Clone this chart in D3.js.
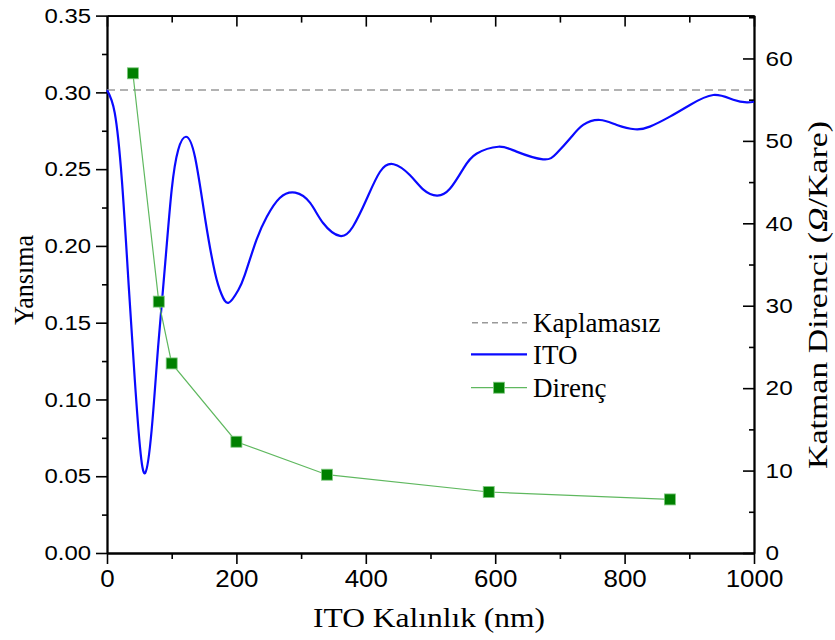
<!DOCTYPE html>
<html>
<head>
<meta charset="utf-8">
<script src="https://cdn.jsdelivr.net/npm/d3@7"></script>
<style>
body { margin: 0; background: #fff; }
svg { display: block; }
</style>
</head>
<body>
<div id="chart"></div>
<script>
// thickness (nm) and reflectance of the ITO curve
let itoX = [0, 12, 23, 33, 43, 51, 59, 69, 79, 90, 100, 110, 122, 136, 152, 167, 177, 188, 203, 213,
	231, 247, 267, 291, 314, 334, 360, 380, 401, 422, 443, 468, 489, 510, 530, 551, 571, 605,
	633, 674, 695, 716, 736, 762, 788, 816, 839, 870, 901, 937, 968, 989, 1000];
let itoR = [0.3015, 0.2866, 0.2429, 0.1778, 0.1127, 0.0690, 0.0521, 0.0801, 0.1342, 0.1889, 0.2367,
	0.2625, 0.2711, 0.2579, 0.2169, 0.1824, 0.1685, 0.1630, 0.1713, 0.1811,
	0.2039, 0.2190, 0.2312, 0.2347, 0.2280, 0.2149, 0.2065, 0.2125, 0.2302, 0.2483, 0.2532, 0.2462,
	0.2367, 0.2328, 0.2372, 0.2505, 0.2600, 0.2646, 0.2614, 0.2564, 0.2603, 0.2701, 0.2788, 0.2820,
	0.2788, 0.2760, 0.2777, 0.2842, 0.2918, 0.2983, 0.2952, 0.2935, 0.2939];

// sheet resistance points
let direncX = [40, 80, 100, 200, 340, 590, 870];
let direncR = [58.2, 30.5, 23.0, 13.5, 9.5, 7.4, 6.5];

// reflectance of the uncoated surface
let uncoated = 0.3015;

let leftTicks = [0, 0.05, 0.10, 0.15, 0.20, 0.25, 0.30, 0.35];
let rightTicks = [0, 10, 20, 30, 40, 50, 60];
let xTicks = [0, 200, 400, 600, 800, 1000];

let legendNames = ['Kaplamasız', 'ITO', 'Direnç'];

let width = 835;
let height = 640;
let margin = {left: 107, right: 81, top: 15.6, bottom: 87};

let svg = d3.select('#chart')
	.append('svg')
	.attr('width', width)
	.attr('height', height);

let x = d3.scaleLinear()
	.domain([0, 1000])
	.range([margin.left, width - margin.right]);

let y = d3.scaleLinear()
	.domain([0, 0.35])
	.range([height - margin.bottom, margin.top]);

let yR = d3.scaleLinear()
	.domain([0, 65.2])
	.range([height - margin.bottom, margin.top]);

let bottom = height - margin.bottom;
let right = width - margin.right;

// minor tick positions halfway between the majors
function halves(t){
	let m = [];
	for(let i = 0; i < t.length - 1; i++) m.push((t[i] + t[i+1]) / 2);
	return m;
}

// axes
let gB = svg.append('g').attr('transform', 'translate(0,' + bottom + ')')
	.call(d3.axisBottom(x).tickValues(xTicks).tickSize(11).tickSizeOuter(0).tickPadding(6)
		.tickFormat(d3.format('d')));
svg.append('g').attr('transform', 'translate(0,' + bottom + ')')
	.call(d3.axisBottom(x).tickValues(halves(xTicks)).tickSize(6).tickSizeOuter(0).tickFormat(''));

svg.append('g').attr('transform', 'translate(0,' + margin.top + ')')
	.call(d3.axisBottom(x).tickValues(xTicks).tickSize(11).tickSizeOuter(0).tickFormat(''));
svg.append('g').attr('transform', 'translate(0,' + margin.top + ')')
	.call(d3.axisBottom(x).tickValues(halves(xTicks)).tickSize(7).tickSizeOuter(0).tickFormat(''));

let gL = svg.append('g').attr('transform', 'translate(' + margin.left + ',0)')
	.call(d3.axisLeft(y).tickValues(leftTicks).tickSize(11).tickSizeOuter(0).tickPadding(5)
		.tickFormat(d3.format('.2f')));
svg.append('g').attr('transform', 'translate(' + margin.left + ',0)')
	.call(d3.axisLeft(y).tickValues(halves(leftTicks)).tickSize(5).tickSizeOuter(0).tickFormat(''));

let gR = svg.append('g').attr('transform', 'translate(' + right + ',0)')
	.call(d3.axisLeft(yR).tickValues(rightTicks).tickSize(11).tickSizeOuter(0).tickFormat(d3.format('d')));
svg.append('g').attr('transform', 'translate(' + right + ',0)')
	.call(d3.axisLeft(yR).tickValues(halves(rightTicks).concat([65])).tickSize(5).tickSizeOuter(0).tickFormat(''));

svg.selectAll('.domain').attr('stroke', '#000').attr('stroke-width', 1.8);
svg.selectAll('.tick line').attr('stroke', '#000').attr('stroke-width', 1.6);

svg.selectAll('.tick text')
	.attr('font-family', 'Liberation Sans, Arial, sans-serif')
	.attr('fill', '#000');

gB.selectAll('.tick text')
	.attr('font-size', 24)
	.attr('transform', 'scale(1.08,1)');

gL.selectAll('.tick text')
	.attr('font-size', 21)
	.attr('x', -14)
	.attr('transform', 'scale(1.14,1)');

// right labels sit outside the axis, but ticks point inward
gR.selectAll('.tick text')
	.attr('font-size', 21)
	.attr('text-anchor', 'start')
	.attr('x', 10)
	.attr('transform', 'scale(1.16,1)');

// uncoated reference line
svg.append('line')
	.attr('x1', x(0)).attr('x2', x(1000))
	.attr('y1', y(uncoated)).attr('y2', y(uncoated))
	.attr('stroke', '#999').attr('stroke-width', 1.5)
	.attr('stroke-dasharray', '8,5');

// ITO reflectance
let itoData = itoX.map((d, i) => [d, itoR[i]]);
svg.append('path')
	.datum(itoData)
	.attr('fill', 'none')
	.attr('stroke', '#0a0aff')
	.attr('stroke-width', 2.2)
	.attr('d', d3.line().x(d => x(d[0])).y(d => y(d[1])).curve(d3.curveNatural));

// sheet resistance
let direncData = direncX.map((d, i) => [d, direncR[i]]);
svg.append('path')
	.datum(direncData)
	.attr('fill', 'none')
	.attr('stroke', '#5fb85f')
	.attr('stroke-width', 1.2)
	.attr('d', d3.line().x(d => x(d[0])).y(d => yR(d[1])));

svg.append('g')
	.selectAll('rect')
	.data(direncData)
	.enter()
	.append('rect')
	.attr('x', d => x(d[0]) - 5.5)
	.attr('y', d => yR(d[1]) - 5.5)
	.attr('width', 11)
	.attr('height', 11)
	.attr('fill', '#008000')
	.attr('stroke', '#7fc97f')
	.attr('stroke-width', 0.8);

// axis titles
let serif = 'Liberation Serif, Times New Roman, serif';

svg.append('text')
	.attr('x', 429).attr('y', 627)
	.attr('text-anchor', 'middle')
	.attr('font-family', serif)
	.attr('font-size', 27)
	.attr('textLength', 232)
	.attr('lengthAdjust', 'spacingAndGlyphs')
	.text('ITO Kalınlık (nm)');

svg.append('text')
	.attr('transform', 'translate(33,280) rotate(-90)')
	.attr('text-anchor', 'middle')
	.attr('font-family', serif)
	.attr('font-size', 27)
	.attr('textLength', 90)
	.attr('lengthAdjust', 'spacingAndGlyphs')
	.text('Yansıma');

let rt = svg.append('text')
	.attr('transform', 'translate(827,295) rotate(-90)')
	.attr('text-anchor', 'middle')
	.attr('font-family', serif)
	.attr('font-size', 27)
	.attr('textLength', 348)
	.attr('lengthAdjust', 'spacingAndGlyphs');
rt.append('tspan').text('Katman Direnci (');
rt.append('tspan').attr('font-style', 'italic').text('Ω');
rt.append('tspan').text('/Kare)');

// legend
let legend = svg.append('g');
let ly = [322.7, 354.3, 387.7];

legend.append('line')
	.attr('x1', 472).attr('x2', 527).attr('y1', ly[0]).attr('y2', ly[0])
	.attr('stroke', '#999').attr('stroke-width', 1.5).attr('stroke-dasharray', '6,4');
legend.append('line')
	.attr('x1', 471).attr('x2', 527).attr('y1', ly[1]).attr('y2', ly[1])
	.attr('stroke', '#0a0aff').attr('stroke-width', 2.2);
legend.append('line')
	.attr('x1', 471).attr('x2', 527).attr('y1', ly[2]).attr('y2', ly[2])
	.attr('stroke', '#5fb85f').attr('stroke-width', 1.2);
legend.append('rect')
	.attr('x', 499 - 5.5).attr('y', ly[2] - 5.5)
	.attr('width', 11).attr('height', 11)
	.attr('fill', '#008000').attr('stroke', '#7fc97f').attr('stroke-width', 0.8);

legend.selectAll('text')
	.data(legendNames)
	.enter()
	.append('text')
	.attr('x', 533)
	.attr('y', (d, i) => ly[i] + 9.5)
	.attr('font-family', serif)
	.attr('font-size', 27)
	.text(d => d);
</script>
</body>
</html>
